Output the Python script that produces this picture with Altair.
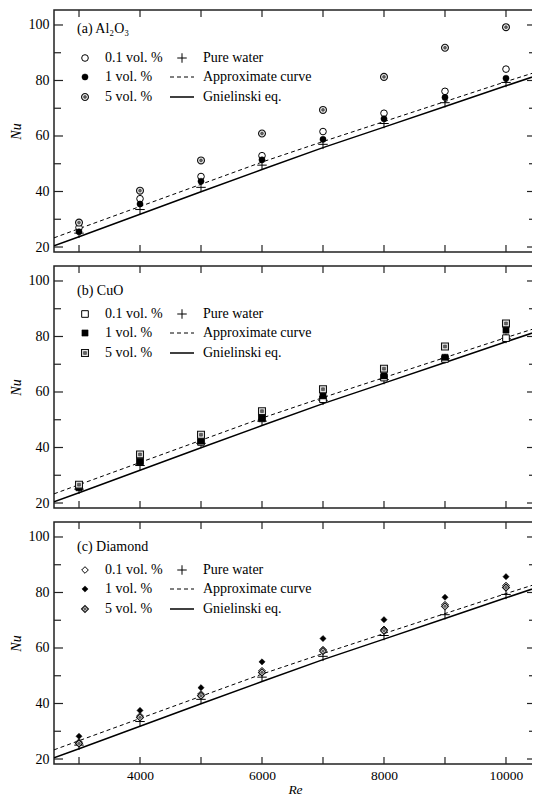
import altair as alt
import pandas as pd

# ---------------- data ----------------
RE = [3000, 4000, 5000, 6000, 7000, 8000, 9000, 10000]
RE_LINE = [2590, 3000, 4000, 5000, 6000, 7000, 8000, 9000, 10000, 10560]
NU_GNIELINSKI = [20.4, 23.7, 31.8, 39.9, 47.9, 55.8, 63.2, 70.6, 78.1, 82.2]
NU_APPROX = [23.3, 26.6, 34.6, 42.6, 50.6, 58.0, 65.2, 72.4, 79.6, 83.5]
NU_WATER = [25.0, 33.5, 41.5, 49.5, 57.0, 64.5, 72.0, 79.3]

AL2O3_01 = [27.0, 37.4, 45.4, 52.9, 61.6, 68.2, 76.1, 84.1]
AL2O3_1 = [25.5, 35.5, 43.7, 51.4, 58.8, 66.2, 73.9, 80.8]
AL2O3_5 = [28.8, 40.3, 51.2, 60.9, 69.4, 81.3, 91.8, 99.2]

CUO_01 = [26.0, 35.0, 42.0, 50.5, 57.4, 65.2, 71.9, 79.4]
CUO_1 = [25.5, 34.9, 42.3, 50.6, 58.6, 65.8, 72.5, 82.3]
CUO_5 = [26.6, 37.5, 44.6, 53.1, 61.0, 68.4, 76.4, 84.7]

DIA_01 = [26.1, 35.5, 43.4, 51.8, 59.4, 66.7, 75.6, 82.5]
DIA_1 = [28.2, 37.5, 45.7, 55.0, 63.4, 70.2, 78.3, 85.7]
DIA_5 = [25.6, 35.0, 42.8, 51.2, 58.9, 66.2, 75.0, 81.8]

PANEL_TITLES = ["(a) Al\u2082O\u2083", "(b) CuO", "(c) Diamond"]
SERIES_LABELS = ["0.1 vol. %", "1 vol. %", "5 vol. %"]
OTHER_LABELS = ["Pure water", "Approximate curve", "Gnielinski eq."]

X_TICKS = [3000, 4000, 5000, 6000, 7000, 8000, 9000, 10000]
X_LABELS = [4000, 6000, 8000, 10000]
Y_MAJOR = [20, 40, 60, 80, 100]
Y_MINOR = [30, 50, 70, 90]

# ---------------- layout ----------------
W, H = 482, 242
XDOM = [2590, 10492]
YDOM = [18.2, 105.4]
FONT = "Liberation Serif"
PLUS = "M-1,0L1,0M0,-1L0,1"
SHAPES = ["circle", "square", "diamond"]

# legend layout (pixels inside a panel)
LEG_ROWS = [48, 67, 87]
LEG_MARK_X, LEG_TEXT_X, LEG2_MARK_X, LEG2_TEXT_X = 31, 51, 128, 149
LEG_TITLE_X = 23
LEG_TITLE_Y = [19, 25, 25]

YAXIS = alt.Axis(values=Y_MAJOR, ticks=False, domain=False, grid=False,
                 labelPadding=5, title="Nu", titlePadding=5)
XAXIS = alt.Axis(values=X_LABELS, ticks=False, domain=False, grid=False,
                 labelPadding=4, title="Re", titlePadding=1, format="d",
                 labelFontSize=13.5, titleFontSize=13.5)


def panel(idx, s01, s1, s5, show_x):
    shape = SHAPES[idx]
    xaxis = XAXIS if show_x else None

    def xs():
        return alt.X("Re:Q", scale=alt.Scale(domain=XDOM, nice=False, zero=False), axis=xaxis)

    def ys(field="Nu"):
        return alt.Y(f"{field}:Q", scale=alt.Scale(domain=YDOM, nice=False, zero=False),
                     axis=YAXIS)

    PX = alt.X("px:Q", scale=None, axis=None)
    PY = alt.Y("py:Q", scale=None, axis=None)

    def marker_layers(df, kind, pixel=False):
        enc = dict(x=PX, y=PY) if pixel else dict(x=xs(), y=ys())
        base = alt.Chart(df)
        if kind == 0:
            return [base.mark_point(shape=shape, filled=True, fill="white", stroke="black",
                                    strokeWidth=1, size=44, opacity=1).encode(**enc)]
        if kind == 1:
            return [base.mark_point(shape=shape, filled=True, fill="black", stroke="black",
                                    strokeWidth=0.5, size=38, opacity=1).encode(**enc)]
        return [
            base.mark_point(shape=shape, filled=True, fill="#e8e8e8", stroke="#111",
                            strokeWidth=1.1, size=48, opacity=1).encode(**enc),
            base.mark_point(shape=shape, filled=True, fill="#666", stroke="#333",
                            strokeWidth=0.6, size=8, opacity=1).encode(**enc),
        ]

    lines = pd.DataFrame({"Re": RE_LINE, "gn": NU_GNIELINSKI, "ap": NU_APPROX})
    water = pd.DataFrame({"Re": RE, "Nu": NU_WATER})
    d01 = pd.DataFrame({"Re": RE, "Nu": s01})
    d1 = pd.DataFrame({"Re": RE, "Nu": s1})
    d5 = pd.DataFrame({"Re": RE, "Nu": s5})

    gn = alt.Chart(lines).mark_line(color="black", strokeWidth=1.5, clip=True).encode(
        x=xs(), y=ys("gn"))
    ap = alt.Chart(lines).mark_line(color="black", strokeWidth=1, strokeDash=[4, 3], clip=True).encode(
        x=xs(), y=ys("ap"))
    wat = alt.Chart(water).mark_point(shape=PLUS, filled=False, stroke="black", strokeWidth=1,
                                      size=90, opacity=1).encode(x=xs(), y=ys())
    layers = [gn, ap, wat]
    layers += marker_layers(d01, 0)
    layers += marker_layers(d1, 1)
    layers += marker_layers(d5, 2)

    # inward ticks on all four sides
    xt = pd.DataFrame({"Re": X_TICKS})
    ymj = pd.DataFrame({"Nu": Y_MAJOR})
    ymn = pd.DataFrame({"Nu": Y_MINOR})
    ts = dict(color="#222", strokeWidth=1.2)
    layers += [
        alt.Chart(xt).mark_rule(**ts).encode(x=xs(), y=alt.value(H), y2=alt.value(H - 7)),
        alt.Chart(xt).mark_rule(**ts).encode(x=xs(), y=alt.value(0), y2=alt.value(7)),
        alt.Chart(ymj).mark_rule(**ts).encode(y=ys(), x=alt.value(0), x2=alt.value(9)),
        alt.Chart(ymj).mark_rule(**ts).encode(y=ys(), x=alt.value(W), x2=alt.value(W - 9)),
        alt.Chart(ymn).mark_rule(**ts).encode(y=ys(), x=alt.value(0), x2=alt.value(7)),
        alt.Chart(ymn).mark_rule(**ts).encode(y=ys(), x=alt.value(W), x2=alt.value(W - 7)),
    ]

    # hand-drawn legend inside the panel
    txt = dict(font=FONT, fontSize=14, align="left", baseline="middle", color="black")
    leg_text = pd.DataFrame({
        "px": [LEG_TITLE_X] + [LEG_TEXT_X] * 3 + [LEG2_TEXT_X] * 3,
        "py": [LEG_TITLE_Y[idx]] + LEG_ROWS + LEG_ROWS,
        "label": [PANEL_TITLES[idx]] + SERIES_LABELS + OTHER_LABELS,
    })
    layers.append(alt.Chart(leg_text).mark_text(**txt).encode(x=PX, y=PY, text="label:N"))
    for r in range(3):
        pos = pd.DataFrame({"px": [LEG_MARK_X], "py": [LEG_ROWS[r]]})
        layers += marker_layers(pos, r, pixel=True)
    plus_pos = pd.DataFrame({"px": [LEG2_MARK_X], "py": [LEG_ROWS[0]]})
    layers.append(alt.Chart(plus_pos).mark_point(shape=PLUS, filled=False, stroke="black",
                                                 strokeWidth=1, size=90, opacity=1).encode(x=PX, y=PY))
    seg_d = pd.DataFrame({"px": [116], "px2": [140], "py": [LEG_ROWS[1]]})
    seg_s = pd.DataFrame({"px": [116], "px2": [140], "py": [LEG_ROWS[2]]})
    layers.append(alt.Chart(seg_d).mark_rule(color="black", strokeWidth=1, strokeDash=[4, 3]).encode(
        x=PX, x2="px2:Q", y=PY))
    layers.append(alt.Chart(seg_s).mark_rule(color="black", strokeWidth=1.5).encode(
        x=PX, x2="px2:Q", y=PY))

    return alt.layer(*layers).properties(width=W, height=H)


p1 = panel(0, AL2O3_01, AL2O3_1, AL2O3_5, False)
p2 = panel(1, CUO_01, CUO_1, CUO_5, False)
p3 = panel(2, DIA_01, DIA_1, DIA_5, True)

chart = (
    alt.vconcat(p1, p2, p3, spacing=9)
    .properties(padding={"left": 0, "top": 0, "right": -6, "bottom": 0})
    .configure(font=FONT)
    .configure_text(font=FONT)
    .configure_axis(labelFont=FONT, labelFontSize=14, labelColor="black",
                    titleFont=FONT, titleFontSize=14, titleFontStyle="italic",
                    titleFontWeight="normal", titleColor="black")
    .configure_view(stroke="#222", strokeWidth=1.5)
)

chart.save("out.html", embed_options={"renderer": "svg", "actions": False})
